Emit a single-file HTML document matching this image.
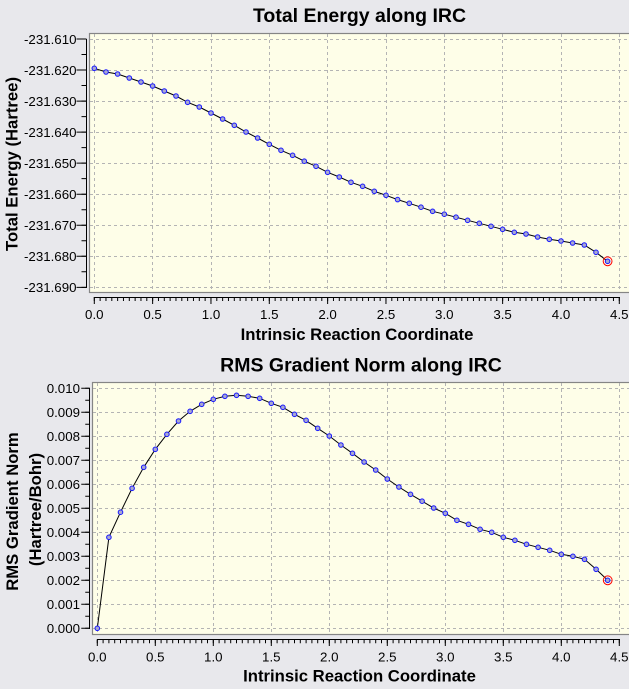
<!DOCTYPE html>
<html><head><meta charset="utf-8"><style>
html,body{margin:0;padding:0;background:#e8e8ec;}
svg{display:block;}
text{font-family:"Liberation Sans",Arial,sans-serif;fill:#000;}
.tl{font-size:13.3px;}
.tt{font-size:19.5px;font-weight:bold;}
.at{font-size:16.7px;font-weight:bold;}
</style></head><body>
<svg width="629" height="689" viewBox="0 0 629 689" xmlns="http://www.w3.org/2000/svg">
<rect width="629" height="689" fill="#e8e8ec"/>

<!-- ================= TOP CHART ================= -->
<text class="tt" x="359.5" y="22" text-anchor="middle">Total Energy along IRC</text>
<rect x="89.5" y="33.5" width="545" height="259" fill="#fefee8" stroke="#858585" stroke-width="1.2"/>
<g stroke="#b4b4b4" stroke-width="1" stroke-dasharray="3 3" fill="none">
<path d="M94.5 34V292M152.5 34V292M211.5 34V292M269.5 34V292M327.5 34V292M386.5 34V292M444.5 34V292M502.5 34V292M561.5 34V292M619.5 34V292"/>
<path d="M90 39.5H629M90 70.5H629M90 101.5H629M90 132.5H629M90 163.5H629M90 194.5H629M90 225.5H629M90 256.5H629M90 287.5H629"/>
</g>
<!-- y axis -->
<line x1="86.5" y1="39" x2="86.5" y2="288" stroke="#000" stroke-width="1"/>
<line x1="81.5" y1="38.5" x2="81.5" y2="288" stroke="#000" stroke-width="10" stroke-dasharray="1 30.04"/>
<line x1="84" y1="38.5" x2="84" y2="288" stroke="#000" stroke-width="5" stroke-dasharray="1 14.52"/>
<g class="tl" text-anchor="end">
<text x="76.5" y="43.8">-231.610</text>
<text x="76.5" y="74.8">-231.620</text>
<text x="76.5" y="105.9">-231.630</text>
<text x="76.5" y="136.9">-231.640</text>
<text x="76.5" y="168">-231.650</text>
<text x="76.5" y="199">-231.660</text>
<text x="76.5" y="230">-231.670</text>
<text x="76.5" y="261.1">-231.680</text>
<text x="76.5" y="292.1">-231.690</text>
</g>
<!-- x axis -->
<line x1="94" y1="297.5" x2="620" y2="297.5" stroke="#000" stroke-width="1"/>
<line x1="93.8" y1="300.5" x2="621" y2="300.5" stroke="#000" stroke-width="7" stroke-dasharray="1 57.333"/>
<line x1="93.8" y1="299" x2="621" y2="299" stroke="#000" stroke-width="4" stroke-dasharray="1 4.8333"/>
<g class="tl" text-anchor="middle">
<text x="94.3" y="318.8">0.0</text>
<text x="152.6" y="318.8">0.5</text>
<text x="211" y="318.8">1.0</text>
<text x="269.3" y="318.8">1.5</text>
<text x="327.6" y="318.8">2.0</text>
<text x="386" y="318.8">2.5</text>
<text x="444.3" y="318.8">3.0</text>
<text x="502.6" y="318.8">3.5</text>
<text x="561" y="318.8">4.0</text>
<text x="619.3" y="318.8">4.5</text>
</g>
<text class="at" x="357" y="339.8" text-anchor="middle">Intrinsic Reaction Coordinate</text>
<text class="at" transform="translate(17.5,164) rotate(-90)" text-anchor="middle">Total Energy (Hartree)</text>

<!-- series top -->
<polyline fill="none" stroke="#000" stroke-width="1" points="94.3,68.3 106,72 117.6,74 129.3,78 141,82 152.6,86 164.3,91 176,96 187.6,102.3 199.3,107 211,113 222.6,119 234.3,125.3 246,132 257.6,138 269.3,144.3 281,150.3 292.6,155.3 304.3,161.2 316,166.3 327.6,172.3 339.3,177 351,182.3 362.6,186.3 374.3,191.3 386,195.3 397.6,199.6 409.3,203.3 421,207.2 432.6,211.3 444.3,214.2 456,217.2 467.6,220.3 479.3,223.3 491,226.3 502.6,229.3 514.3,232.3 526,234 537.6,237 549.3,239.3 561,241 572.6,243 584.3,245 596,252.3 607.6,261.3"/>
<g fill="#a8a8d0" stroke="#1818ff" stroke-width="1">
<circle cx="94.3" cy="68.3" r="2.3"/><circle cx="106" cy="72" r="2.3"/><circle cx="117.6" cy="74" r="2.3"/><circle cx="129.3" cy="78" r="2.3"/><circle cx="141" cy="82" r="2.3"/><circle cx="152.6" cy="86" r="2.3"/><circle cx="164.3" cy="91" r="2.3"/><circle cx="176" cy="96" r="2.3"/><circle cx="187.6" cy="102.3" r="2.3"/><circle cx="199.3" cy="107" r="2.3"/><circle cx="211" cy="113" r="2.3"/><circle cx="222.6" cy="119" r="2.3"/><circle cx="234.3" cy="125.3" r="2.3"/><circle cx="246" cy="132" r="2.3"/><circle cx="257.6" cy="138" r="2.3"/><circle cx="269.3" cy="144.3" r="2.3"/><circle cx="281" cy="150.3" r="2.3"/><circle cx="292.6" cy="155.3" r="2.3"/><circle cx="304.3" cy="161.2" r="2.3"/><circle cx="316" cy="166.3" r="2.3"/><circle cx="327.6" cy="172.3" r="2.3"/><circle cx="339.3" cy="177" r="2.3"/><circle cx="351" cy="182.3" r="2.3"/><circle cx="362.6" cy="186.3" r="2.3"/><circle cx="374.3" cy="191.3" r="2.3"/><circle cx="386" cy="195.3" r="2.3"/><circle cx="397.6" cy="199.6" r="2.3"/><circle cx="409.3" cy="203.3" r="2.3"/><circle cx="421" cy="207.2" r="2.3"/><circle cx="432.6" cy="211.3" r="2.3"/><circle cx="444.3" cy="214.2" r="2.3"/><circle cx="456" cy="217.2" r="2.3"/><circle cx="467.6" cy="220.3" r="2.3"/><circle cx="479.3" cy="223.3" r="2.3"/><circle cx="491" cy="226.3" r="2.3"/><circle cx="502.6" cy="229.3" r="2.3"/><circle cx="514.3" cy="232.3" r="2.3"/><circle cx="526" cy="234" r="2.3"/><circle cx="537.6" cy="237" r="2.3"/><circle cx="549.3" cy="239.3" r="2.3"/><circle cx="561" cy="241" r="2.3"/><circle cx="572.6" cy="243" r="2.3"/><circle cx="584.3" cy="245" r="2.3"/><circle cx="596" cy="252.3" r="2.3"/><circle cx="607.6" cy="261.3" r="2.3"/>
</g>
<circle cx="607.6" cy="261.3" r="4.4" fill="none" stroke="#ff0000" stroke-width="1"/>

<!-- ================= BOTTOM CHART ================= -->
<text class="tt" x="361" y="371.7" text-anchor="middle">RMS Gradient Norm along IRC</text>
<rect x="92.5" y="382.5" width="545" height="252" fill="#fefee8" stroke="#858585" stroke-width="1.2"/>
<g stroke="#b4b4b4" stroke-width="1" stroke-dasharray="3 3" fill="none">
<path d="M97.5 383V634M155.5 383V634M213.5 383V634M271.5 383V634M329.5 383V634M387.5 383V634M445.5 383V634M503.5 383V634M561.5 383V634M619.5 383V634"/>
<path d="M93 388.5H629M93 412.5H629M93 436.5H629M93 460.5H629M93 484.5H629M93 508.5H629M93 532.5H629M93 556.5H629M93 580.5H629M93 604.5H629M93 628.5H629"/>
</g>
<!-- y axis -->
<line x1="89.5" y1="388" x2="89.5" y2="629" stroke="#000" stroke-width="1"/>
<line x1="85.5" y1="387.8" x2="85.5" y2="629.5" stroke="#000" stroke-width="8.5" stroke-dasharray="1 23"/>
<line x1="87.5" y1="387.8" x2="87.5" y2="629.5" stroke="#000" stroke-width="4.5" stroke-dasharray="1 11"/>
<g class="tl" text-anchor="end">
<text x="80" y="393.1">0.010</text>
<text x="80" y="417.1">0.009</text>
<text x="80" y="441.1">0.008</text>
<text x="80" y="465.1">0.007</text>
<text x="80" y="489.1">0.006</text>
<text x="80" y="513.1">0.005</text>
<text x="80" y="537.1">0.004</text>
<text x="80" y="561.1">0.003</text>
<text x="80" y="585.1">0.002</text>
<text x="80" y="609.1">0.001</text>
<text x="80" y="633.1">0.000</text>
</g>
<!-- x axis -->
<line x1="97" y1="639.5" x2="620" y2="639.5" stroke="#000" stroke-width="1"/>
<line x1="96.8" y1="642.8" x2="621" y2="642.8" stroke="#000" stroke-width="6.5" stroke-dasharray="1 57"/>
<line x1="96.8" y1="641.3" x2="621" y2="641.3" stroke="#000" stroke-width="3.8" stroke-dasharray="1 4.8"/>
<g class="tl" text-anchor="middle">
<text x="97.3" y="661.3">0.0</text>
<text x="155.3" y="661.3">0.5</text>
<text x="213.3" y="661.3">1.0</text>
<text x="271.3" y="661.3">1.5</text>
<text x="329.3" y="661.3">2.0</text>
<text x="387.3" y="661.3">2.5</text>
<text x="445.3" y="661.3">3.0</text>
<text x="503.3" y="661.3">3.5</text>
<text x="561.3" y="661.3">4.0</text>
<text x="619.3" y="661.3">4.5</text>
</g>
<text class="at" x="359.5" y="681.5" text-anchor="middle">Intrinsic Reaction Coordinate</text>
<text class="at" transform="translate(17.8,511.5) rotate(-90)" text-anchor="middle">RMS Gradient Norm</text>
<text class="at" transform="translate(41,509.5) rotate(-90)" text-anchor="middle">(Hartree/Bohr)</text>

<!-- series bottom -->
<polyline fill="none" stroke="#000" stroke-width="1" points="97.3,628.3 108.9,537.3 120.5,512.2 132.1,488.3 143.7,467.3 155.3,449.3 166.9,434.3 178.5,421 190.1,411.3 201.7,404.3 213.3,399.3 224.9,396.3 236.5,395.3 248.1,396.3 259.7,398.3 271.3,403.3 282.9,407.3 294.5,414.3 306.1,420.3 317.7,428.3 329.3,436 340.9,445 352.5,453.3 364.1,462 375.7,470 387.3,479 398.9,487 410.5,494.3 422.1,501.2 433.7,508 445.3,513.3 456.9,520.3 468.5,524.3 480.1,529.3 491.7,532.3 503.3,537.3 514.9,540.3 526.5,544.3 538.1,547.3 549.7,550.3 561.3,554.3 572.9,556.3 584.5,559.3 596.1,569.3 607.7,580.3"/>
<g fill="#a8a8d0" stroke="#1818ff" stroke-width="1">
<circle cx="97.3" cy="628.3" r="2.3"/><circle cx="108.9" cy="537.3" r="2.3"/><circle cx="120.5" cy="512.2" r="2.3"/><circle cx="132.1" cy="488.3" r="2.3"/><circle cx="143.7" cy="467.3" r="2.3"/><circle cx="155.3" cy="449.3" r="2.3"/><circle cx="166.9" cy="434.3" r="2.3"/><circle cx="178.5" cy="421" r="2.3"/><circle cx="190.1" cy="411.3" r="2.3"/><circle cx="201.7" cy="404.3" r="2.3"/><circle cx="213.3" cy="399.3" r="2.3"/><circle cx="224.9" cy="396.3" r="2.3"/><circle cx="236.5" cy="395.3" r="2.3"/><circle cx="248.1" cy="396.3" r="2.3"/><circle cx="259.7" cy="398.3" r="2.3"/><circle cx="271.3" cy="403.3" r="2.3"/><circle cx="282.9" cy="407.3" r="2.3"/><circle cx="294.5" cy="414.3" r="2.3"/><circle cx="306.1" cy="420.3" r="2.3"/><circle cx="317.7" cy="428.3" r="2.3"/><circle cx="329.3" cy="436" r="2.3"/><circle cx="340.9" cy="445" r="2.3"/><circle cx="352.5" cy="453.3" r="2.3"/><circle cx="364.1" cy="462" r="2.3"/><circle cx="375.7" cy="470" r="2.3"/><circle cx="387.3" cy="479" r="2.3"/><circle cx="398.9" cy="487" r="2.3"/><circle cx="410.5" cy="494.3" r="2.3"/><circle cx="422.1" cy="501.2" r="2.3"/><circle cx="433.7" cy="508" r="2.3"/><circle cx="445.3" cy="513.3" r="2.3"/><circle cx="456.9" cy="520.3" r="2.3"/><circle cx="468.5" cy="524.3" r="2.3"/><circle cx="480.1" cy="529.3" r="2.3"/><circle cx="491.7" cy="532.3" r="2.3"/><circle cx="503.3" cy="537.3" r="2.3"/><circle cx="514.9" cy="540.3" r="2.3"/><circle cx="526.5" cy="544.3" r="2.3"/><circle cx="538.1" cy="547.3" r="2.3"/><circle cx="549.7" cy="550.3" r="2.3"/><circle cx="561.3" cy="554.3" r="2.3"/><circle cx="572.9" cy="556.3" r="2.3"/><circle cx="584.5" cy="559.3" r="2.3"/><circle cx="596.1" cy="569.3" r="2.3"/><circle cx="607.7" cy="580.3" r="2.3"/>
</g>
<circle cx="607.7" cy="580.3" r="4.4" fill="none" stroke="#ff0000" stroke-width="1"/>
</svg>
</body></html>
